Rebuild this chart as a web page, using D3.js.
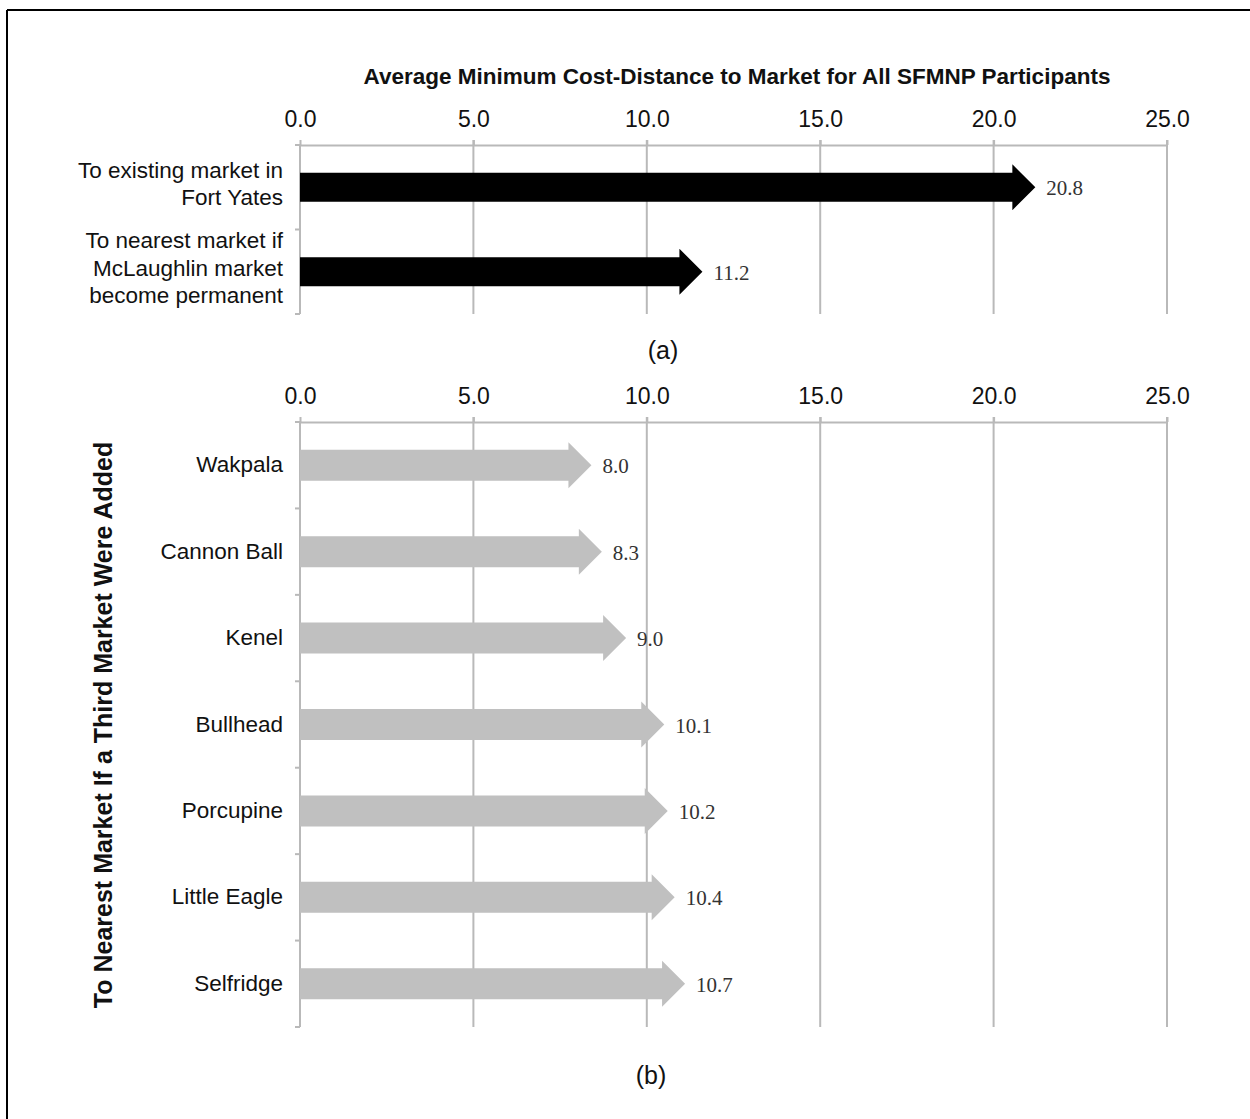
<!DOCTYPE html>
<html>
<head>
<meta charset="utf-8">
<script src="https://cdn.jsdelivr.net/npm/d3@7"></script>
<style>
  html, body { margin: 0; padding: 0; background: #fff; }
  svg { display: block; }
  text { font-family: "Liberation Sans", Arial, sans-serif; fill: #111; }
  .val { font-family: "Liberation Serif", "Times New Roman", serif; fill: #333; }
</style>
</head>
<body>
<svg id="chart" width="1250" height="1119"></svg>
<script>
// Panel (a): current vs. McLaughlin scenario
const topCategories = [
  ["To existing market in", "Fort Yates"],
  ["To nearest market if", "McLaughlin market", "become permanent"]
];
const topValues = [20.8, 11.2];

// Panel (b): adding a third market
const bottomCategories = ["Wakpala", "Cannon Ball", "Kenel", "Bullhead", "Porcupine", "Little Eagle", "Selfridge"];
const bottomValues = [8.0, 8.3, 9.0, 10.1, 10.2, 10.4, 10.7];

const tickValues = [0, 5, 10, 15, 20, 25];
const chartTitle = "Average Minimum Cost-Distance to Market for All SFMNP Participants";
const sideTitle = "To Nearest Market If a Third Market Were Added";

const svg = d3.select("#chart");
const W = 1250, H = 1119;

// Frame: top and left rules
svg.append("line").attr("x1", 7).attr("x2", W).attr("y1", 10).attr("y2", 10)
  .attr("stroke", "#000").attr("stroke-width", 2);
svg.append("line").attr("x1", 7).attr("x2", 7).attr("y1", 10).attr("y2", H)
  .attr("stroke", "#000").attr("stroke-width", 2);

const x = d3.scaleLinear().domain([0, 25]).range([300, 1167]);
const gridColor = "#b9b9b9";

function arrowPath(v, cy, halfShaft, halfHead) {
  const x0 = x(0), base = x(v) - 9, tip = x(v) + 14;
  return `M${x0},${cy - halfShaft}L${base},${cy - halfShaft}L${base},${cy - halfHead}` +
         `L${tip},${cy}L${base},${cy + halfHead}L${base},${cy + halfShaft}L${x0},${cy + halfShaft}Z`;
}

function panel(cfg) {
  const g = svg.append("g");
  const y = d3.scaleBand().domain(cfg.values.map((d, i) => i))
    .range([cfg.top, cfg.bottom]).paddingInner(0).paddingOuter(0);

  // vertical gridlines
  g.selectAll("line.grid").data(tickValues.slice(1)).join("line")
    .attr("class", "grid")
    .attr("x1", d => x(d)).attr("x2", d => x(d))
    .attr("y1", cfg.top - 5).attr("y2", cfg.bottom)
    .attr("stroke", gridColor).attr("stroke-width", 2);

  // top value axis
  const ax = d3.axisTop(x).tickValues(tickValues).tickFormat(d3.format(".1f"))
    .tickSizeInner(5).tickSizeOuter(0).tickPadding(13);
  const axG = g.append("g").attr("transform", `translate(0,${cfg.top})`).call(ax);
  axG.select(".domain").attr("stroke", gridColor).attr("stroke-width", 2);
  axG.selectAll(".tick line").attr("stroke", gridColor).attr("stroke-width", 2);
  axG.selectAll(".tick text").attr("font-size", 23).attr("fill", "#111")
    .style("font-family", "'Liberation Sans', Arial, sans-serif");

  // category axis on the left
  const boundaries = d3.range(cfg.values.length + 1).map(i => cfg.top + i * y.bandwidth());
  g.append("line").attr("x1", x(0)).attr("x2", x(0))
    .attr("y1", cfg.top).attr("y2", cfg.bottom)
    .attr("stroke", gridColor).attr("stroke-width", 2);
  g.selectAll("line.ytick").data(boundaries).join("line")
    .attr("class", "ytick")
    .attr("x1", x(0) - 5).attr("x2", x(0))
    .attr("y1", d => d).attr("y2", d => d)
    .attr("stroke", gridColor).attr("stroke-width", 2);

  // arrow bars
  g.selectAll("path.bar").data(cfg.values).join("path")
    .attr("class", "bar")
    .attr("d", (v, i) => arrowPath(v, y(i) + y.bandwidth() / 2, cfg.halfShaft, cfg.halfHead))
    .attr("fill", cfg.color);

  // value labels
  g.selectAll("text.val").data(cfg.values).join("text")
    .attr("class", "val")
    .attr("text-anchor", "start")
    .attr("dominant-baseline", "central")
    .attr("font-size", 21)
    .attr("x", v => x(v) + 25)
    .attr("y", (v, i) => y(i) + y.bandwidth() / 2 + 1)
    .text(v => v.toFixed(1));

  // category labels
  cfg.categories.forEach((lines, i) => {
    const arr = Array.isArray(lines) ? lines : [lines];
    const cy = y(i) + y.bandwidth() / 2;
    const lh = 27.5;
    const t = g.append("text")
      .attr("text-anchor", "end")
      .attr("font-size", 22.5);
    arr.forEach((ln, k) => {
      t.append("tspan")
        .attr("x", 283)
        .attr("y", cy + (k - (arr.length - 1) / 2) * lh + (arr.length > 1 ? 4 : 7))
        .text(ln);
    });
  });
  return y;
}

panel({
  values: topValues, categories: topCategories,
  top: 145, bottom: 314, color: "#000",
  halfShaft: 14.5, halfHead: 23
});

panel({
  values: bottomValues, categories: bottomCategories,
  top: 422, bottom: 1027, color: "#c0c0c0",
  halfShaft: 15.5, halfHead: 23
});

// titles
svg.append("text").attr("x", 737).attr("y", 84)
  .attr("text-anchor", "middle").attr("font-size", 22.5).attr("font-weight", "bold")
  .attr("fill", "#111").text(chartTitle);

svg.append("text").attr("transform", "translate(112,725) rotate(-90)")
  .attr("text-anchor", "middle").attr("font-size", 25).attr("font-weight", "bold")
  .text(sideTitle);

svg.append("text").attr("x", 663).attr("y", 359)
  .attr("text-anchor", "middle").attr("font-size", 25).text("(a)");
svg.append("text").attr("x", 651).attr("y", 1084)
  .attr("text-anchor", "middle").attr("font-size", 25).text("(b)");
</script>
</body>
</html>
